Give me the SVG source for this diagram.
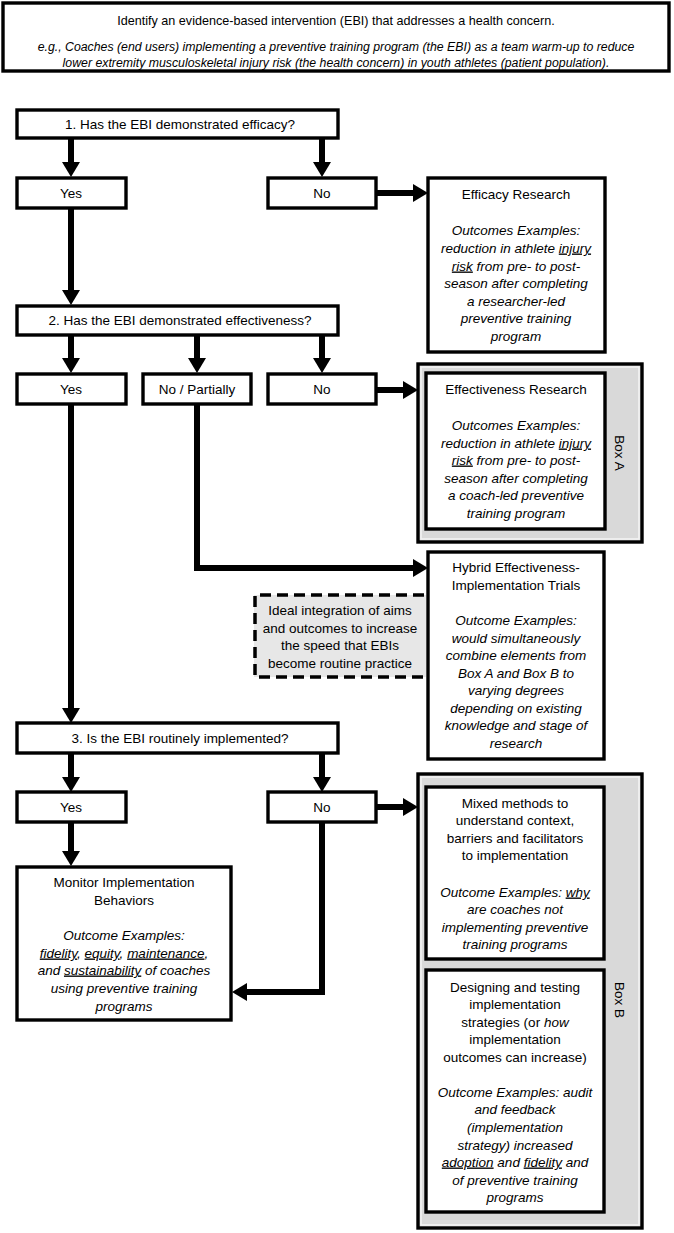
<svg xmlns="http://www.w3.org/2000/svg" width="674" height="1233" viewBox="0 0 674 1233">
<style>
text{font-family:"Liberation Sans",Arial,sans-serif;font-size:13.5px;fill:#000;text-anchor:middle}
.it{font-style:italic}
.u{text-decoration:underline}
.top{font-size:12.6px}
.topi{font-size:12.3px;font-style:italic}
.box{fill:#fff;stroke:#000;stroke-width:3.4}
.grp{fill:#d9d9d9;stroke:#000;stroke-width:3.4}
.hl{fill:none;stroke:#f4f4f4;stroke-width:1.5}
.dash{fill:none;stroke:#000;stroke-width:3.5;stroke-dasharray:11 6}
.c{fill:none;stroke:#000;stroke-width:6}
</style>
<defs>
<marker id="ah" viewBox="0 0 15 18" refX="1" refY="9" markerWidth="15" markerHeight="18" markerUnits="userSpaceOnUse" orient="auto">
<path d="M0,0 L15,9 L0,18 Z" fill="#000"/>
</marker>
</defs>

<g id="connectors">
<path class="c" d="M71,138 V163" marker-end="url(#ah)"/>
<path class="c" d="M322,138 V163" marker-end="url(#ah)"/>
<path class="c" d="M376,193 H414" marker-end="url(#ah)"/>
<path class="c" d="M71,208 V291" marker-end="url(#ah)"/>
<path class="c" d="M71,335 V359" marker-end="url(#ah)"/>
<path class="c" d="M197,335 V359" marker-end="url(#ah)"/>
<path class="c" d="M322,335 V359" marker-end="url(#ah)"/>
<path class="c" d="M376,390 H404" marker-end="url(#ah)"/>
<path class="c" d="M71,404 V709" marker-end="url(#ah)"/>
<path class="c" d="M197,404 V568 H414" marker-end="url(#ah)"/>
<path class="c" d="M71,753 V778" marker-end="url(#ah)"/>
<path class="c" d="M322,753 V778" marker-end="url(#ah)"/>
<path class="c" d="M376,807 H404" marker-end="url(#ah)"/>
<path class="c" d="M71,822 V852" marker-end="url(#ah)"/>
<path class="c" d="M322,822 V992 H246" marker-end="url(#ah)"/>
</g>

<g id="intro">
<rect class="box" x="3" y="3" width="666" height="68"/>
<text class="top" x="336" y="24.5">Identify an evidence-based intervention (EBI) that addresses a health concern.</text>
<text class="topi" x="336" y="50.5">e.g., Coaches (end users) implementing a preventive training program (the EBI) as a team warm-up to reduce</text>
<text class="topi" x="336" y="66.5">lower extremity musculoskeletal injury risk (the health concern) in youth athletes (patient population).</text>
</g>

<g id="q1">
<rect class="box" x="17" y="110" width="321" height="28"/>
<text x="180" y="128.5">1. Has the EBI demonstrated efficacy?</text>
</g>
<g id="q1-yes">
<rect class="box" x="17" y="178" width="109" height="30"/>
<text x="71" y="197.5">Yes</text>
</g>
<g id="q1-no">
<rect class="box" x="268" y="178" width="108" height="30"/>
<text x="322" y="197.5">No</text>
</g>
<g id="efficacy">
<rect class="box" x="428" y="178" width="177" height="174"/>
<text x="516" y="198.5">Efficacy Research</text>
<text class="it" x="516" y="234.5">Outcomes Examples:</text>
<text class="it" x="516" y="252.5">reduction in athlete <tspan class="u">injury</tspan></text>
<text class="it" x="516" y="270.5"><tspan class="u">risk</tspan> from pre- to post-</text>
<text class="it" x="516" y="287.5">season after completing</text>
<text class="it" x="516" y="305.5">a researcher-led</text>
<text class="it" x="516" y="322.5">preventive training</text>
<text class="it" x="516" y="340.5">program</text>
</g>

<g id="q2">
<rect class="box" x="17" y="306" width="321" height="29"/>
<text x="180" y="324.5">2. Has the EBI demonstrated effectiveness?</text>
</g>
<g id="q2-yes">
<rect class="box" x="17" y="374" width="109" height="30"/>
<text x="71" y="393.5">Yes</text>
</g>
<g id="q2-partial">
<rect class="box" x="143" y="374" width="108" height="30"/>
<text x="197" y="393.5">No / Partially</text>
</g>
<g id="q2-no">
<rect class="box" x="268" y="374" width="108" height="30"/>
<text x="322" y="393.5">No</text>
</g>
<g id="box-a">
<rect class="grp" x="418" y="364" width="224" height="178"/>
<rect class="hl" x="421" y="367" width="218" height="172"/>
<text transform="translate(615,453) rotate(90)" x="0" y="0">Box A</text>
</g>
<g id="effectiveness">
<rect class="box" x="426" y="373" width="179" height="156"/>
<text x="516" y="393.5">Effectiveness Research</text>
<text class="it" x="516" y="429.5">Outcomes Examples:</text>
<text class="it" x="516" y="447.5">reduction in athlete <tspan class="u">injury</tspan></text>
<text class="it" x="516" y="464.5"><tspan class="u">risk</tspan> from pre- to post-</text>
<text class="it" x="516" y="482.5">season after completing</text>
<text class="it" x="516" y="499.5">a coach-led preventive</text>
<text class="it" x="516" y="517.5">training program</text>
</g>

<g id="hybrid">
<rect class="box" x="428" y="552" width="176" height="207"/>
<text x="516" y="571.5">Hybrid Effectiveness-</text>
<text x="516" y="589.5">Implementation Trials</text>
<text class="it" x="516" y="624.5">Outcome Examples:</text>
<text class="it" x="516" y="642.5">would simultaneously</text>
<text class="it" x="516" y="659.5">combine elements from</text>
<text class="it" x="516" y="677.5">Box A and Box B to</text>
<text class="it" x="516" y="694.5">varying degrees</text>
<text class="it" x="516" y="712.5">depending on existing</text>
<text class="it" x="516" y="729.5">knowledge and stage of</text>
<text class="it" x="516" y="747.5">research</text>
</g>
<g id="ideal">
<rect x="254" y="595" width="172" height="82" fill="#e7e7e7"/>
<path class="dash" d="M424,595 H255 V677 H424"/>
<text x="340" y="614.5">Ideal integration of aims</text>
<text x="340" y="632.5">and outcomes to increase</text>
<text x="340" y="649.5">the speed that EBIs</text>
<text x="340" y="667.5">become routine practice</text>
</g>

<g id="q3">
<rect class="box" x="17" y="723" width="321" height="30"/>
<text x="180" y="742.5">3. Is the EBI routinely implemented?</text>
</g>
<g id="q3-yes">
<rect class="box" x="17" y="792" width="109" height="30"/>
<text x="71" y="811.5">Yes</text>
</g>
<g id="q3-no">
<rect class="box" x="268" y="792" width="108" height="30"/>
<text x="322" y="811.5">No</text>
</g>
<g id="monitor">
<rect class="box" x="17" y="867" width="214" height="153"/>
<text x="124" y="886.5">Monitor Implementation</text>
<text x="124" y="904.5">Behaviors</text>
<text class="it" x="124" y="939.5">Outcome Examples:</text>
<text class="it" x="124" y="957.5"><tspan class="u">fidelity</tspan>, <tspan class="u">equity</tspan>, <tspan class="u">maintenance</tspan>,</text>
<text class="it" x="124" y="974.5">and <tspan class="u">sustainability</tspan> of coaches</text>
<text class="it" x="124" y="992.5">using preventive training</text>
<text class="it" x="124" y="1010.5">programs</text>
</g>

<g id="box-b">
<rect class="grp" x="418" y="774" width="224" height="454"/>
<rect class="hl" x="421" y="777" width="218" height="448"/>
<text transform="translate(615,1000) rotate(90)" x="0" y="0">Box B</text>
</g>
<g id="mixed-methods">
<rect class="box" x="426" y="787" width="178" height="172"/>
<text x="515" y="807.5">Mixed methods to</text>
<text x="515" y="824.5">understand context,</text>
<text x="515" y="842.5">barriers and facilitators</text>
<text x="515" y="859.5">to implementation</text>
<text class="it" x="515" y="896.5">Outcome Examples: <tspan class="u">why</tspan></text>
<text class="it" x="515" y="913.5">are coaches not</text>
<text class="it" x="515" y="931.5">implementing preventive</text>
<text class="it" x="515" y="948.5">training programs</text>
</g>
<g id="strategies">
<rect class="box" x="426" y="970" width="178" height="242"/>
<text x="515" y="991.5">Designing and testing</text>
<text x="515" y="1008.5">implementation</text>
<text x="515" y="1026.5">strategies (or <tspan class="it">how</tspan></text>
<text x="515" y="1043.5">implementation</text>
<text x="515" y="1061.5">outcomes can increase)</text>
<text class="it" x="515" y="1096.5">Outcome Examples: audit</text>
<text class="it" x="515" y="1113.5">and feedback</text>
<text class="it" x="515" y="1131.5">(implementation</text>
<text class="it" x="515" y="1149.5">strategy) increased</text>
<text class="it" x="515" y="1166.5"><tspan class="u">adoption</tspan> and <tspan class="u">fidelity</tspan> and</text>
<text class="it" x="515" y="1184.5">of preventive training</text>
<text class="it" x="515" y="1201.5">programs</text>
</g>
</svg>
